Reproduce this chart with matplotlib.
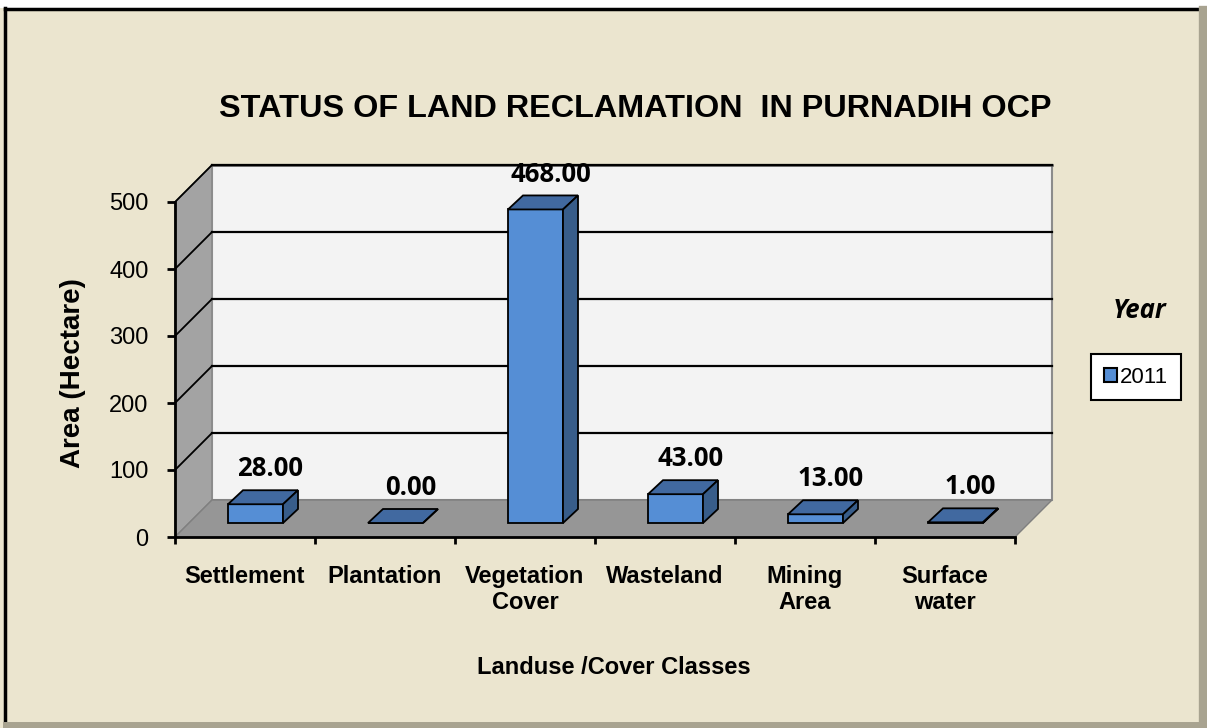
import matplotlib
matplotlib.use("Agg")
import matplotlib.pyplot as plt
from matplotlib.patches import Polygon, Rectangle, Patch
from matplotlib.lines import Line2D
import numpy as np

# data
classes = ['Settlement', 'Plantation', 'Vegetation\nCover', 'Wasteland', 'Mining\nArea', 'Surface\nwater']
area_2011 = [28.00, 0.00, 468.00, 43.00, 13.00, 1.00]
y_ticks = [0, 100, 200, 300, 400, 500]

plt.rcParams['font.family'] = ['Liberation Sans', 'DejaVu Sans']

W, H = 1207, 728
fig = plt.figure(figsize=(W / 100, H / 100), dpi=100)
fig.patch.set_facecolor('white')

# outer frame (beige panel with bevel)
fig.patches.append(Rectangle((0, 0), 1, (H - 8) / H, transform=fig.transFigure,
                             facecolor='#EBE5CF', edgecolor='none', zorder=-5))
fig.lines.append(Line2D([5 / W, 5 / W], [0, (H - 8) / H], transform=fig.transFigure, color='black', lw=2.5, zorder=-4))
fig.lines.append(Line2D([5 / W, 1], [(H - 9) / H, (H - 9) / H], transform=fig.transFigure, color='black', lw=2.5, zorder=-4))
fig.lines.append(Line2D([(W - 4) / W, (W - 4) / W], [0, (H - 10) / H], transform=fig.transFigure, color='#A8A390', lw=6, zorder=-4))
fig.lines.append(Line2D([6 / W, 1], [3 / H, 3 / H], transform=fig.transFigure, color='#A8A390', lw=5, zorder=-4))

# axes: 140 px per category, 0.67 px per hectare
px_cat = 140
px_val = 0.67
ax = fig.add_axes([175 / W, (H - 537) / H, 6.3 * px_cat / W, 560 * px_val / H])
ax.set_xlim(-0.5, 5.8)
ax.set_ylim(0, 560)
ax.patch.set_visible(False)

DX = 37 / px_cat   # depth of the 3d box
DY = 37 / px_val
x0, x1 = -0.5, len(classes) - 0.5
top = y_ticks[-1]

# walls and floor
ax.add_patch(Polygon([(x0, 0), (x0 + DX, DY), (x0 + DX, top + DY), (x0, top)],
                     facecolor='#A3A3A3', edgecolor='#7F7F7F', lw=1, zorder=1, clip_on=False))
ax.add_patch(Polygon([(x0 + DX, DY), (x1 + DX, DY), (x1 + DX, top + DY), (x0 + DX, top + DY)],
                     facecolor='#F3F3F3', edgecolor='#8C8C8C', lw=1.5, zorder=1, clip_on=False))
ax.add_patch(Polygon([(x0, 0), (x1, 0), (x1 + DX, DY), (x0 + DX, DY)],
                     facecolor='#969696', edgecolor='#7F7F7F', lw=1, zorder=1.2, clip_on=False))
ax.plot([x0 + DX, x1 + DX], [top + DY, top + DY], color='#555555', lw=1.8, zorder=1.3, clip_on=False)

for v in y_ticks[1:]:
    ax.plot([x0 + DX, x1 + DX], [v + DY, v + DY], color='black', lw=1.6, zorder=1.4)
    ax.plot([x0, x0 + DX], [v, v + DY], color='black', lw=1.3, zorder=1.4)

# bars
bx, by = 10.5 / px_cat, 14 / px_val      # front face offset from front axis
ddx, ddy = 15 / px_cat, 14 / px_val      # bar depth
bw = 55 / px_cat
front_c = '#558ED5'
top_c = '#4169A0'
side_c = '#385D8A'
xs = np.arange(len(classes))

ax.bar(xs + bx, area_2011, width=bw, bottom=by, color=front_c, edgecolor='black', lw=1.3, zorder=3)
for x, v in zip(xs, area_2011):
    l, r = x + bx - bw / 2, x + bx + bw / 2
    ax.add_patch(Polygon([(l, by + v), (r, by + v), (r + ddx, by + v + ddy), (l + ddx, by + v + ddy)],
                         facecolor=top_c, edgecolor='black', lw=1.3, zorder=3.1))
    ax.add_patch(Polygon([(r, by), (r + ddx, by + ddy), (r + ddx, by + v + ddy), (r, by + v)],
                         facecolor=side_c, edgecolor='black', lw=1.3, zorder=3.1))
    ax.annotate(f'{v:.2f}', (x + bx + ddx, by + v + ddy), xytext=(0, 10), textcoords='offset points',
                ha='center', va='baseline', fontsize=18.5, fontweight='bold',
                family=['Open Sans', 'DejaVu Sans'], zorder=4)

# axis lines and ticks
for s in ['top', 'right']:
    ax.spines[s].set_visible(False)
ax.spines['left'].set_bounds(0, top)
ax.spines['bottom'].set_bounds(x0, x1)
ax.spines['left'].set_linewidth(2)
ax.spines['bottom'].set_linewidth(2)
ax.spines['left'].set_zorder(2)
ax.spines['bottom'].set_zorder(2)

ax.set_yticks(y_ticks)
ax.set_yticklabels([str(t) for t in y_ticks], fontsize=17)
ax.tick_params(axis='y', length=6, width=2, pad=13)

ax.set_xticks(np.arange(x0, x1 + 0.01, 1))
ax.set_xticklabels([])
ax.set_xticks(xs, minor=True)
ax.set_xticklabels(classes, minor=True, fontsize=17, fontweight='bold', linespacing=1.2)
ax.tick_params(axis='x', which='major', length=5, width=2)
ax.tick_params(axis='x', which='minor', length=0, pad=20)

# titles
fig.text(635 / W, 1 - 109 / H, 'STATUS OF LAND RECLAMATION  IN PURNADIH OCP',
         ha='center', va='center', fontsize=23.3, fontweight='bold')
fig.text(614 / W, 1 - 668 / H, 'Landuse /Cover Classes', ha='center', va='center',
         fontsize=17, fontweight='bold')
fig.text(73 / W, 1 - 373 / H, 'Area (Hectare)', ha='center', va='center', rotation=90,
         fontsize=20, fontweight='bold')

# legend
fig.text(1140 / W, 1 - 311 / H, 'Year', ha='center', va='center', fontsize=18.5,
         fontweight='bold', style='italic', family=['Open Sans', 'DejaVu Sans'])
leg = fig.legend(handles=[Patch(facecolor=front_c, edgecolor='black', lw=1.5, label='2011')],
                 loc='center', bbox_to_anchor=(1136 / W, 1 - 377 / H), fontsize=16,
                 fancybox=False, framealpha=1, edgecolor='black', handlelength=0.6,
                 handleheight=0.6, handletextpad=0.15, borderpad=0.55, borderaxespad=0)
leg.get_frame().set_linewidth(1.5)

fig.savefig('out.png', dpi=100)
